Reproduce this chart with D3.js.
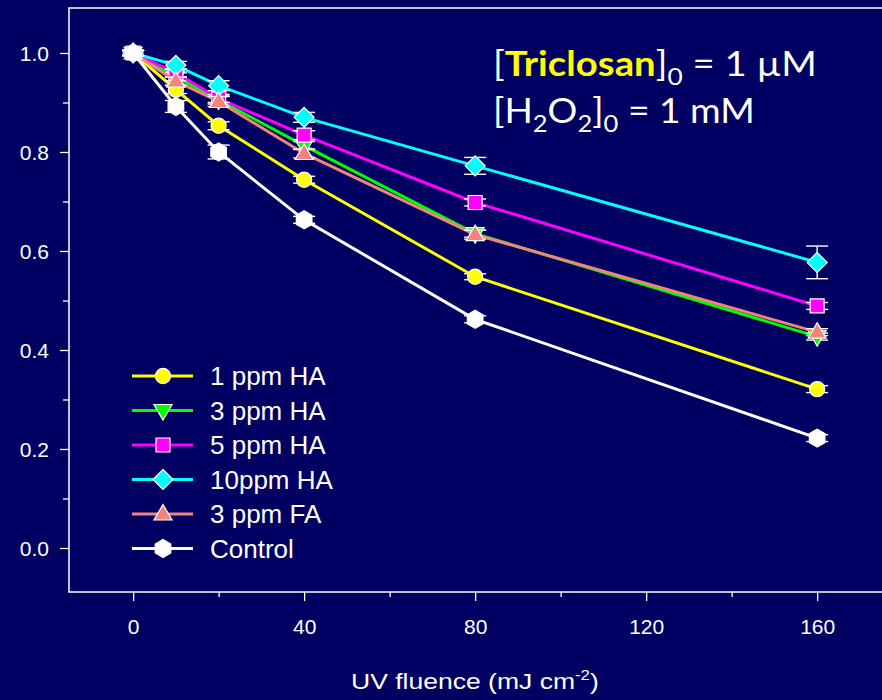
<!DOCTYPE html>
<html>
<head>
<meta charset="utf-8">
<script src="https://cdn.jsdelivr.net/npm/d3@7"></script>
<style>
  html, body { margin: 0; padding: 0; background: #000062; }
  svg { display: block; }
</style>
</head>
<body>
<svg id="chart" width="882" height="700"></svg>
<script>
// UV fluence (mJ cm^-2) and normalised triclosan remaining, C/C0
const fluence = [0, 10, 20, 40, 80, 160];

const ha1     = [1.000, 0.926, 0.853, 0.744, 0.548, 0.321];
const ha3     = [1.000, 0.952, 0.905, 0.813, 0.635, 0.427];
const ha5     = [1.000, 0.960, 0.908, 0.834, 0.698, 0.489];
const ha10    = [1.000, 0.975, 0.934, 0.870, 0.772, 0.577];
const fa3     = [1.000, 0.943, 0.902, 0.797, 0.633, 0.436];
const control = [1.000, 0.892, 0.800, 0.663, 0.462, 0.222];

// standard deviations
const ha1Err     = [0.005, 0.008, 0.008, 0.007, 0.006, 0.007];
const ha3Err     = [0.005, 0.008, 0.008, 0.008, 0.007, 0.007];
const ha5Err     = [0.005, 0.008, 0.008, 0.009, 0.007, 0.007];
const ha10Err    = [0.005, 0.008, 0.010, 0.010, 0.017, 0.033];
const fa3Err     = [0.005, 0.008, 0.010, 0.009, 0.009, 0.007];
const controlErr = [0.006, 0.012, 0.014, 0.007, 0.007, 0.007];

const seriesNames = ["1 ppm HA", "3 ppm HA", "5 ppm HA", "10ppm HA", "3 ppm FA", "Control"];
const seriesColors = ["#ffff00", "#00ff00", "#ff00ff", "#00ffff", "#f4837d", "#ffffff"];
const seriesSymbols = ["circle", "triDown", "square", "diamond", "triUp", "hexagon"];

const xTicks = [0, 40, 80, 120, 160];
const xMinorTicks = [20, 60, 100, 140];
const yTicks = [0.0, 0.2, 0.4, 0.6, 0.8, 1.0];
const yMinorTicks = [0.1, 0.3, 0.5, 0.7, 0.9];

const series = seriesNames.map((name, i) => ({
  name,
  color: seriesColors[i],
  symbol: seriesSymbols[i],
  values: [ha1, ha3, ha5, ha10, fa3, control][i],
  errors: [ha1Err, ha3Err, ha5Err, ha10Err, fa3Err, controlErr][i]
}));

const svg = d3.select("#chart");
const frame = { left: 69, right: 880, top: 8, bottom: 592 };

const x = d3.scaleLinear().domain([-15, 174.7]).range([frame.left, frame.right]);
const y = d3.scaleLinear().domain([-0.0889, 1.0909]).range([frame.bottom, frame.top]);

const axisFont = "'Liberation Sans', Arial, sans-serif";

// plot frame: left, top and bottom edges run to the page edge
svg.append("path")
  .attr("d", `M882,${frame.top}H${frame.left}V${frame.bottom}H882`)
  .attr("fill", "none").attr("stroke", "#ffffff").attr("stroke-width", 1.5);

// x axis
const gx = svg.append("g").attr("transform", `translate(0,${frame.bottom})`)
  .call(d3.axisBottom(x).tickValues(xTicks).tickSize(9).tickPadding(18).tickFormat(d3.format("d")));
gx.append("g").call(d3.axisBottom(x).tickValues(xMinorTicks).tickSize(5).tickFormat(""));

// y axis
const gy = svg.append("g").attr("transform", `translate(${frame.left},0)`)
  .call(d3.axisLeft(y).tickValues(yTicks).tickSize(9).tickPadding(11).tickFormat(d3.format(".1f")));
gy.append("g").call(d3.axisLeft(y).tickValues(yMinorTicks).tickSize(6).tickFormat(""));

svg.selectAll(".domain").remove();
svg.selectAll(".tick line").attr("stroke", "#ffffff").attr("stroke-width", 1.3);
svg.selectAll(".tick text")
  .attr("fill", "#ffffff").style("font-family", axisFont).style("font-size", "21px");
gy.selectAll(".tick text").attr("dy", "0.38em");

// x axis title
const xTitle = svg.append("text")
  .attr("x", 0).attr("y", 0)
  .attr("fill", "#ffffff")
  .style("font-family", axisFont).style("font-size", "22px");
xTitle.append("tspan").text("UV fluence (mJ cm");
xTitle.append("tspan").attr("dy", -9).style("font-size", "14px").text("-2");
xTitle.append("tspan").attr("dy", 9).text(")");
{
  const w = xTitle.node().getComputedTextLength();
  const target = 248;
  const sx = target / w;
  xTitle.attr("transform", `translate(${475 - target / 2},689) scale(${sx},1)`);
}

// symbol shapes
function symbolPath(kind) {
  switch (kind) {
    case "circle":  return d3.symbol(d3.symbolCircle, 180)();
    case "square":  return "M-7,-7H7V7H-7Z";
    case "diamond": return "M0,-10L10,0L0,10L-10,0Z";
    case "triUp":   return "M0,-9.5L9,6L-9,6Z";
    case "triDown": return "M0,9.5L9,-6L-9,-6Z";
    case "hexagon": {
      const r = 9;
      return d3.range(6).map(k => {
        const a = Math.PI / 2 + k * Math.PI / 3;
        return (k ? "L" : "M") + (r * Math.cos(a)).toFixed(2) + "," + (r * Math.sin(a)).toFixed(2);
      }).join("") + "Z";
    }
  }
}

const line = d3.line().x(d => x(d[0])).y(d => y(d[1]));
const capHalf = 11;

series.forEach(s => {
  const pts = fluence.map((f, i) => [f, s.values[i], s.errors[i]]);
  const g = svg.append("g");

  g.append("path")
    .datum(pts)
    .attr("d", line)
    .attr("fill", "none")
    .attr("stroke", s.color)
    .attr("stroke-width", 3);

  const eb = g.append("g").selectAll("g").data(pts).join("g");
  eb.append("line")
    .attr("x1", d => x(d[0])).attr("x2", d => x(d[0]))
    .attr("y1", d => y(d[1] - d[2])).attr("y2", d => y(d[1] + d[2]))
    .attr("stroke", "#ffffff").attr("stroke-width", 1.4);
  [-1, 1].forEach(sign => {
    eb.append("line")
      .attr("x1", d => x(d[0]) - capHalf).attr("x2", d => x(d[0]) + capHalf)
      .attr("y1", d => y(d[1] + sign * d[2])).attr("y2", d => y(d[1] + sign * d[2]))
      .attr("stroke", "#ffffff").attr("stroke-width", 1.4);
  });

  g.append("g").selectAll("path").data(pts).join("path")
    .attr("d", symbolPath(s.symbol))
    .attr("transform", d => `translate(${x(d[0])},${y(d[1])})`)
    .attr("fill", s.color)
    .attr("stroke", "#ffffff")
    .attr("stroke-width", 1.2);
});

// legend
const legend = svg.append("g");
series.forEach((s, i) => {
  const cy = 376 + i * 34.5;
  legend.append("line")
    .attr("x1", 132).attr("x2", 193).attr("y1", cy).attr("y2", cy)
    .attr("stroke", s.color).attr("stroke-width", 3);
  legend.append("path")
    .attr("d", symbolPath(s.symbol))
    .attr("transform", `translate(163,${cy})`)
    .attr("fill", s.color).attr("stroke", "#ffffff").attr("stroke-width", 1.2);
  legend.append("text")
    .attr("x", 210).attr("y", cy + 9)
    .attr("fill", "#ffffff")
    .style("font-family", axisFont).style("font-size", "26px")
    .text(s.name);
});

// experimental conditions
const noteFont = "Lato, 'Open Sans', sans-serif";
function fitText(sel, x0, baseline, target) {
  const w = sel.node().getComputedTextLength();
  sel.attr("transform", `translate(${x0},${baseline}) scale(${target / w},1)`);
}

const note1 = svg.append("text").attr("fill", "#ffffff")
  .style("font-family", noteFont).style("font-size", "35px");
note1.append("tspan").text("[");
note1.append("tspan").attr("fill", "#ffff00").style("font-weight", "bold").text("Triclosan");
note1.append("tspan").text("]");
note1.append("tspan").attr("dy", 9).style("font-size", "24px").text("0");
note1.append("tspan").attr("dy", -9).text(" = 1 \u00B5M");
fitText(note1, 493, 76, 324);

const note2 = svg.append("text").attr("fill", "#ffffff")
  .style("font-family", noteFont).style("font-size", "35px");
note2.append("tspan").text("[H");
note2.append("tspan").attr("dy", 9).style("font-size", "24px").text("2");
note2.append("tspan").attr("dy", -9).text("O");
note2.append("tspan").attr("dy", 9).style("font-size", "24px").text("2");
note2.append("tspan").attr("dy", -9).text("]");
note2.append("tspan").attr("dy", 9).style("font-size", "24px").text("0");
note2.append("tspan").attr("dy", -9).text(" = 1 mM");
fitText(note2, 493, 123, 262);
</script>
</body>
</html>
